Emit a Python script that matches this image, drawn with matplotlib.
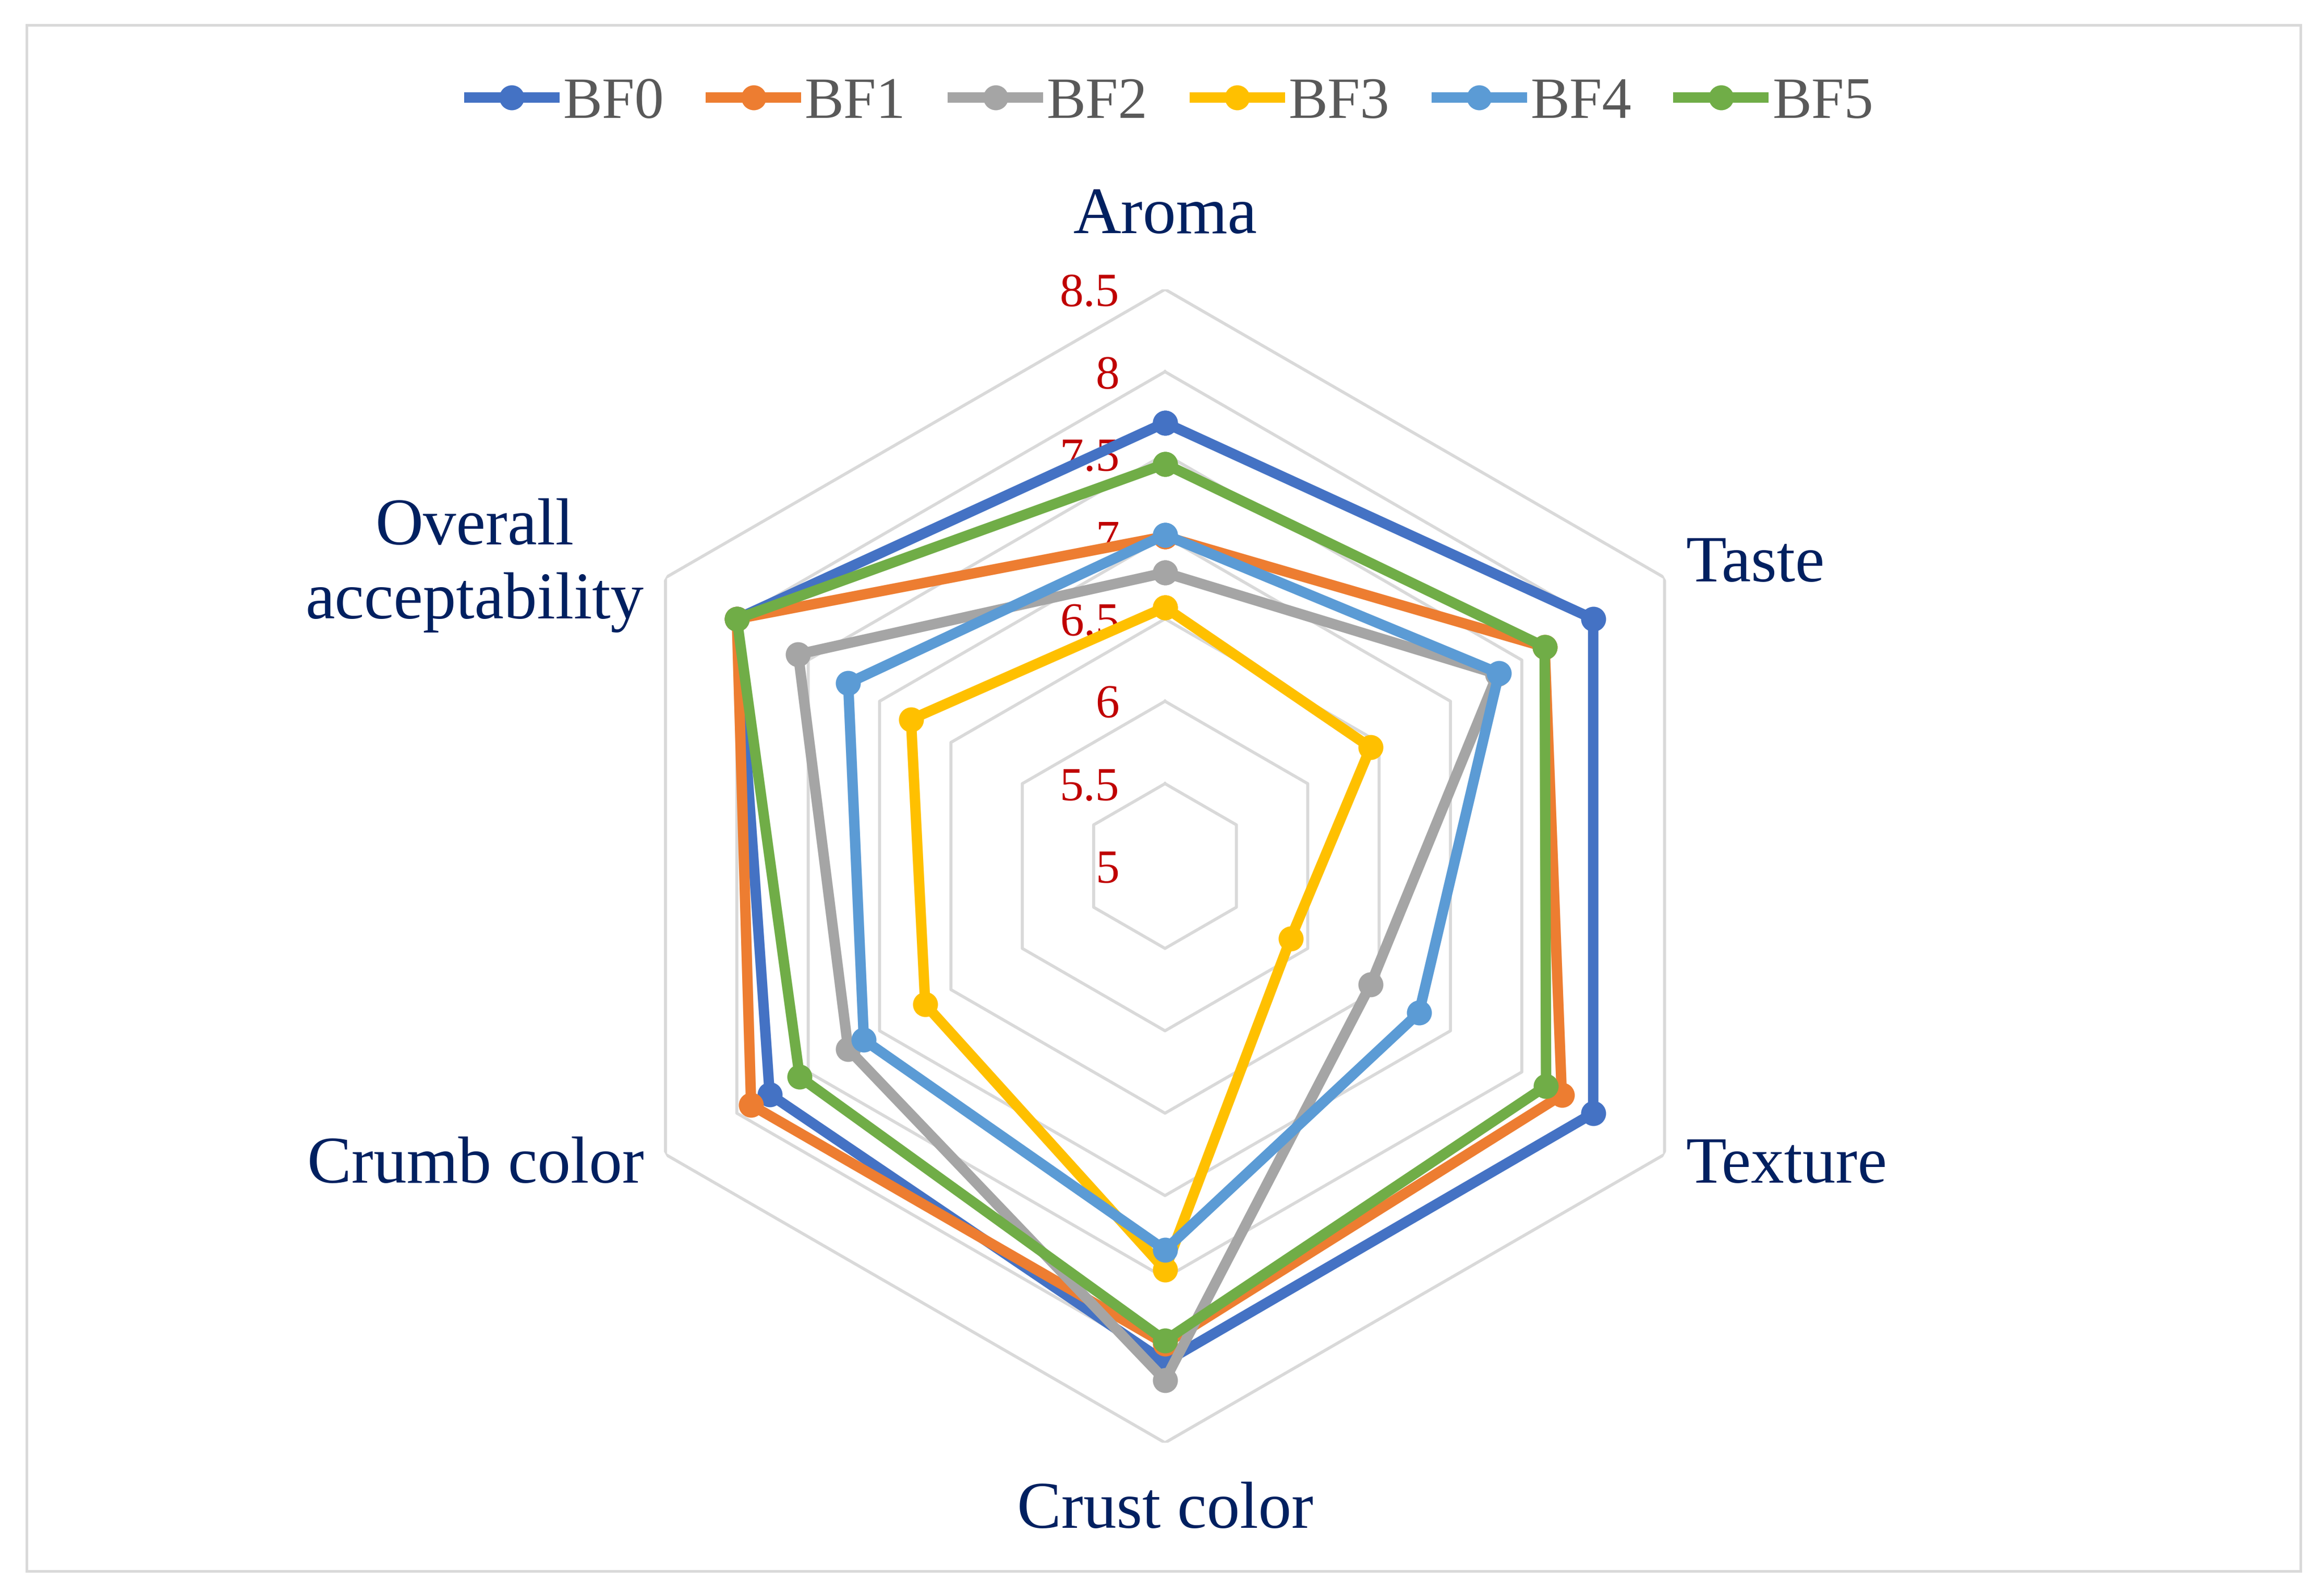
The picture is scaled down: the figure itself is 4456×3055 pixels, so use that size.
import numpy as np
import matplotlib
matplotlib.use("Agg")
import matplotlib.pyplot as plt
from matplotlib.patches import Rectangle

# Sensorische Bewertung (Radar-Diagramm)
categories = ["Aroma", "Taste", "Texture", "Crust color", "Crumb color", "Overall\nacceptability"]
series_names = ["BF0", "BF1", "BF2", "BF3", "BF4", "BF5"]

bf0 = [7.69, 8.00, 8.00, 8.01, 7.77, 8.00]
bf1 = [7.00, 7.66, 7.78, 7.90, 7.90, 8.00]
bf2 = [6.78, 7.33, 6.44, 8.12, 7.22, 7.57]
bf3 = [6.57, 6.44, 5.88, 7.45, 6.68, 6.78]
bf4 = [7.01, 7.34, 6.78, 7.33, 7.11, 7.22]
bf5 = [7.44, 7.66, 7.67, 7.88, 7.56, 8.00]

tick_values = [5, 5.5, 6, 6.5, 7, 7.5, 8, 8.5]
tick_labels = ["5", "5.5", "6", "6.5", "7", "7.5", "8", "8.5"]

colors = ["#4472C4", "#ED7D31", "#A5A5A5", "#FFC000", "#5B9BD5", "#70AD47"]

plt.rcParams["font.family"] = ["Liberation Serif", "DejaVu Serif"]

fig = plt.figure(figsize=(4456 / 300, 3055 / 300), dpi=300)

# Rahmen um das Diagramm
fig.patches.append(Rectangle((0.0115, 0.0138), 0.9784, 0.9705, transform=fig.transFigure,
                             fill=False, edgecolor="#D9D9D9", linewidth=1.2))

ax = fig.add_axes([0.2531, 0.0943, 0.4964, 0.7241], projection="polar")
ax.set_theta_offset(np.pi / 2)
ax.set_theta_direction(-1)
ax.set_ylim(5, 8.5)
ax.grid(False)
ax.spines["polar"].set_visible(False)
ax.set_xticks([])
ax.set_yticks([])
ax.patch.set_alpha(0)

n = len(categories)
angles = np.linspace(0, 2 * np.pi, n, endpoint=False)
angles_closed = np.append(angles, angles[0])

# Sechseckiges Raster
for lvl in tick_values[1:]:
    ax.plot(angles_closed, [lvl] * (n + 1), color="#D9D9D9", lw=1.4, zorder=1)

# Achsenbeschriftung (Werte)
for val, lab in zip(tick_values, tick_labels):
    ax.annotate(lab, xy=(0, val), xytext=(-21, 0), textcoords="offset points",
                ha="right", va="center_baseline", fontsize=22, color="#C00000", zorder=2)

# Datenreihen
all_series = [bf0, bf1, bf2, bf3, bf4, bf5]
for i, (name, vals) in enumerate(zip(series_names, all_series)):
    v = np.append(vals, vals[0])
    ax.plot(angles_closed, v, color=colors[i], lw=4.8, marker="o", markersize=10.5,
            label=name, zorder=3 + i, clip_on=False)

# Kategorienbeschriftung
lab_color = "#002060"
fs = 30.5
ax.text(angles[0], 8.94, categories[0], ha="center", va="center", fontsize=fs, color=lab_color)
ax.text(angles[1], 8.65, categories[1], ha="left", va="center", fontsize=fs, color=lab_color)
ax.text(angles[2], 8.65, categories[2], ha="left", va="center", fontsize=fs, color=lab_color)
ax.text(angles[3], 8.92, categories[3], ha="center", va="center", fontsize=fs, color=lab_color)
ax.text(angles[4], 8.65, categories[4], ha="right", va="center", fontsize=fs, color=lab_color)
ax.text(angles[5], 8.65, categories[5], ha="right", va="center", fontsize=fs, color=lab_color,
        multialignment="center", linespacing=1.3)

# Legende
fig.legend(loc="center", bbox_to_anchor=(0.504, 0.935), ncol=6, frameon=False,
           fontsize=27, handlelength=1.45, handletextpad=0.15, columnspacing=0.8,
           labelcolor="#595959")

fig.savefig("out.png", dpi=300)
